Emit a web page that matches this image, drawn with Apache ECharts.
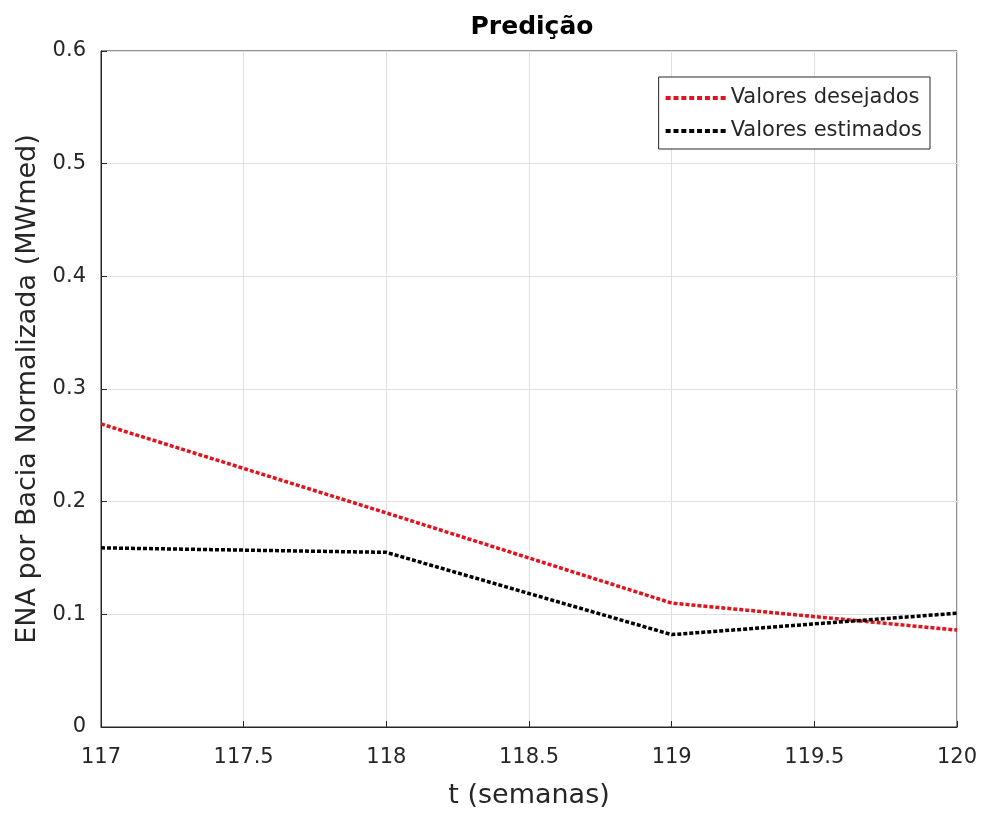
<!DOCTYPE html>
<html>
<head>
<meta charset="utf-8">
<script src="https://cdn.jsdelivr.net/npm/echarts@6/dist/echarts.min.js"></script>
<style>html,body{margin:0;padding:0;background:#fff}#c{width:984px;height:815px}</style>
</head>
<body>
<div id="c"></div>
<script>
var weeks = [117, 118, 119, 120];
var desejados = [0.269, 0.190, 0.110, 0.086];
var estimados = [0.159, 0.155, 0.082, 0.101];
var xTicks = [117, 117.5, 118, 118.5, 119, 119.5, 120];
var yTicks = [0, 0.1, 0.2, 0.3, 0.4, 0.5, 0.6];

function pairs(xs, ys){ return xs.map(function(x,i){ return [x, ys[i]]; }); }
var font = "'DejaVu Sans', 'Liberation Sans', Arial, sans-serif";
// dotted legend sample: 8 dashes over 60x4
var dashPath = 'path://';
for (var k = 0; k < 8; k++) { var x0 = (k * 55 / 7).toFixed(2); dashPath += 'M' + x0 + ',0h5v4h-5z'; }

var chart = echarts.init(document.getElementById('c'));
chart.setOption({
  animation: false,
  backgroundColor: '#fff',
  title: {
    text: 'Predição', left: 527, top: 10, textAlign: 'center',
    textStyle: {fontFamily: font, fontSize: 25, fontWeight: 'bold', color: '#000'}
  },
  grid: {left: 101, top: 51, right: 27, bottom: 88, show: true, borderColor: '#262626', borderWidth: 1, backgroundColor: '#fff'},
  legend: {
    orient: 'vertical', right: 54, top: 77,
    backgroundColor: '#fff', borderColor: '#262626', borderWidth: 1,
    padding: [9, 8, 6, 7], itemGap: 9, itemWidth: 60, itemHeight: 4,
    icon: dashPath,
    itemStyle: {borderWidth: 0},
    textStyle: {fontFamily: font, fontSize: 21, color: '#262626', lineHeight: 24},
    data: ['Valores desejados', 'Valores estimados']
  },
  xAxis: {
    type: 'value', min: xTicks[0], max: xTicks[xTicks.length-1], interval: 0.5,
    name: 't (semanas)', nameLocation: 'middle', nameGap: 55,
    nameTextStyle: {fontFamily: font, fontSize: 27, color: '#262626'},
    axisLine: {show: true, lineStyle: {color: '#262626', width: 1}},
    axisTick: {show: true, inside: true, length: 6, lineStyle: {color: '#262626'}},
    axisLabel: {fontFamily: font, fontSize: 21, color: '#262626', margin: 20},
    splitLine: {show: true, lineStyle: {color: '#e0e0e0', width: 1}}
  },
  yAxis: {
    type: 'value', min: yTicks[0], max: yTicks[yTicks.length-1], interval: 0.1,
    name: 'ENA por Bacia Normalizada (MWmed)', nameLocation: 'middle', nameGap: 57,
    nameTextStyle: {fontFamily: font, fontSize: 27, color: '#262626'},
    axisLine: {show: true, lineStyle: {color: '#262626', width: 1}},
    axisTick: {show: true, inside: true, length: 6, lineStyle: {color: '#262626'}},
    axisLabel: {fontFamily: font, fontSize: 21, color: '#262626', margin: 15},
    splitLine: {show: true, lineStyle: {color: '#e0e0e0', width: 1}}
  },
  series: [
    {name: 'Valores desejados', type: 'line', data: pairs(weeks, desejados), showSymbol: false, symbol: 'none',
     color: '#e0141e', lineStyle: {color: '#e0141e', width: 3.5, type: [4, 2]}},
    {name: 'Valores estimados', type: 'line', data: pairs(weeks, estimados), showSymbol: false, symbol: 'none',
     color: '#000', lineStyle: {color: '#000', width: 3.5, type: [4, 2]}}
  ]
});
</script>
</body>
</html>
